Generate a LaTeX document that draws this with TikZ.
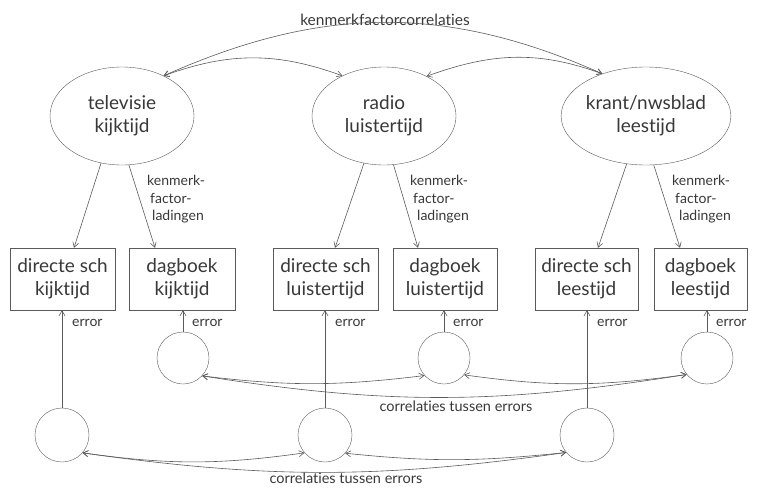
\documentclass[tikz,border=0pt]{standalone}
\usepackage{fontspec}
\setmainfont{Lato}[Ligatures={NoCommon,NoRare}]
\usetikzlibrary{arrows.meta,shapes.geometric,calc}
\definecolor{ln}{HTML}{5A5A5A}
\definecolor{tx}{HTML}{383838}
\begin{document}
\begin{tikzpicture}[x=1pt,y=-1pt,
  every node/.style={text=tx},
  lat/.style={draw=ln,ellipse,minimum width=144pt,minimum height=98pt,inner sep=0pt,align=center,font=\fontsize{19}{23}\selectfont},
  obs/.style={draw=ln,rectangle,minimum height=62pt,inner sep=0pt,align=center,font=\fontsize{19}{23}\selectfont},
  err/.style={draw=ln,circle,inner sep=0pt},
  small/.style={font=\fontsize{14}{17.5}\selectfont,inner sep=0pt},
  con/.style={draw=ln,line width=0.6pt,-{Straight Barb[length=5pt,width=6pt]}},
  dcon/.style={draw=ln,line width=0.6pt,{Straight Barb[length=5pt,width=6pt]}-{Straight Barb[length=5pt,width=6pt]}}]
\useasboundingbox (0,0) rectangle (759,487);
% latent factors
\node[lat] (tv) at (122,116) {televisie\\kijktijd};
\node[lat] (ra) at (384,116) {radio\\luistertijd};
\node[lat] (kr) at (646,116) {krant/nwsblad\\leestijd};
% observed
\node[obs,minimum width=105pt] (b1) at (62.5,279) {directe sch\\kijktijd};
\node[obs,minimum width=106pt] (b2) at (182,279) {dagboek\\kijktijd};
\node[obs,minimum width=105pt] (b3) at (325.5,279) {directe sch\\luistertijd};
\node[obs,minimum width=104pt] (b4) at (445,279) {dagboek\\luistertijd};
\node[obs,minimum width=103pt] (b5) at (586.5,279) {directe sch\\leestijd};
\node[obs,minimum width=93pt] (b6) at (700.5,279) {dagboek\\leestijd};
% errors
\node[err,minimum size=54pt] (c1) at (62,435) {};
\node[err,minimum size=52pt] (c2) at (183,358) {};
\node[err,minimum size=54pt] (c3) at (325,435) {};
\node[err,minimum size=52pt] (c4) at (444,358) {};
\node[err,minimum size=54pt] (c5) at (587,435) {};
\node[err,minimum size=52pt] (c6) at (707,358) {};
% labels
\node[small,font=\fontsize{15.5}{18}\selectfont] (t0) at (385,20) {kenmerkfactorcorrelaties};
\node[small,align=left,anchor=north west] (l1) at (147,175) {kenmerk-\\\hspace{3pt}factor-\\\hspace{5pt}ladingen};
\node[small,align=left,anchor=north west] (l2) at (410,175) {kenmerk-\\\hspace{3pt}factor-\\\hspace{7pt}ladingen};
\node[small,align=left,anchor=north west] (l3) at (672,175) {kenmerk-\\\hspace{3pt}factor-\\\hspace{7pt}ladingen};
\node[small,anchor=west] (e1) at (72,323) {error};
\node[small,anchor=west] (e2) at (192,323) {error};
\node[small,anchor=west] (e3) at (335,323) {error};
\node[small,anchor=west] (e4) at (453,323) {error};
\node[small,anchor=west] (e5) at (597,323) {error};
\node[small,anchor=west] (e6) at (716,323) {error};
\node[small,font=\fontsize{14.5}{17}\selectfont] (cu) at (456,406) {correlaties tussen errors};
\node[small,font=\fontsize{14.5}{17}\selectfont] (cl) at (346,478) {correlaties tussen errors};
% factor correlations
\draw[dcon] (tv.44) to[out=20,in=160] (ra.136);
\draw[dcon] (tv.44) to[out=24,in=156] (kr.136);
\draw[dcon] (ra.43) to[out=20,in=160] (kr.136);
% loadings
\draw[con] (tv.-114) -- ([xshift=11.5pt]b1.north);
\draw[con] (tv.-82) -- ([xshift=-27pt]b2.north);
\draw[con] (ra.-113) -- ([xshift=9.5pt]b3.north);
\draw[con] (ra.-79) -- ([xshift=-27pt]b4.north);
\draw[con] (kr.-112) -- ([xshift=11.5pt]b5.north);
\draw[con] (kr.-81) -- ([xshift=-20.5pt]b6.north);
% error arrows
\draw[con] (c1) -- (c1 |- b1.south);
\draw[con] (c2) -- (c2 |- b2.south);
\draw[con] (c3) -- (c3 |- b3.south);
\draw[con] (c4) -- (c4 |- b4.south);
\draw[con] (c5) -- (c5 |- b5.south);
\draw[con] (c6) -- (c6 |- b6.south);
% error correlations (upper)
\draw[dcon] (c2.-43) to[out=-7,in=-173] (c4.-138);
\draw[dcon] (c2.-43) to[out=-9,in=-171] (c6.-141);
\draw[dcon] (c4.-40) to[out=-8,in=-172] (c6.-141);
% error correlations (lower)
\draw[dcon] (c1.-41) to[out=-8,in=-172] (c3.-139);
\draw[dcon] (c1.-41) to[out=-8,in=-172] (c5.-140);
\draw[dcon] (c3.-42) to[out=-6,in=-174] (c5.-140);
\end{tikzpicture}
\end{document}
